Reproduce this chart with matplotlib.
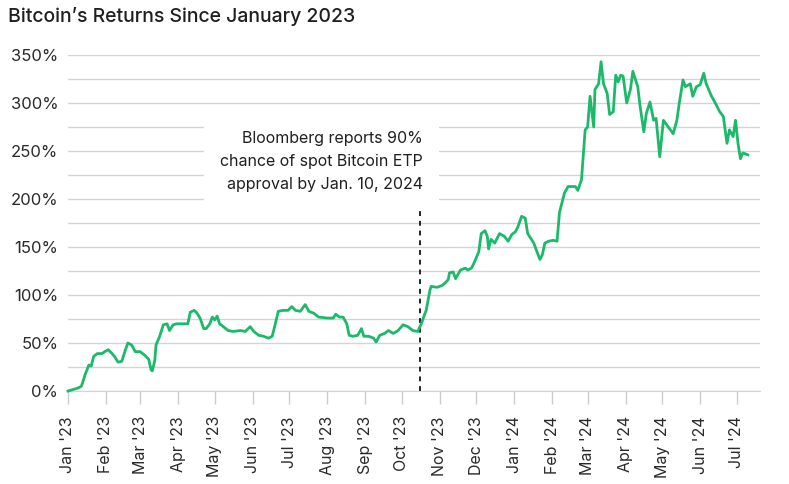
import numpy as np
import pandas as pd
import matplotlib.pyplot as plt
from matplotlib.ticker import MultipleLocator

plt.rcParams["font.family"] = ["Inter", "DejaVu Sans"]

# Values (cumulative return, %)
dates = [
    "2023-01-01", "2023-01-09", "2023-01-12", "2023-01-15", "2023-01-18", "2023-01-20",
    "2023-01-22", "2023-01-25", "2023-01-29", "2023-01-31", "2023-02-03", "2023-02-06",
    "2023-02-08", "2023-02-11", "2023-02-14", "2023-02-17", "2023-02-19", "2023-02-22",
    "2023-02-25", "2023-03-01", "2023-03-05", "2023-03-08", "2023-03-10", "2023-03-11",
    "2023-03-13", "2023-03-14", "2023-03-17", "2023-03-20", "2023-03-23", "2023-03-25",
    "2023-03-28", "2023-03-31", "2023-04-05", "2023-04-09", "2023-04-11", "2023-04-14",
    "2023-04-16", "2023-04-19", "2023-04-22", "2023-04-24", "2023-04-27", "2023-04-29",
    "2023-05-01", "2023-05-03", "2023-05-05", "2023-05-08", "2023-05-12", "2023-05-16",
    "2023-05-22", "2023-05-26", "2023-05-30", "2023-06-02", "2023-06-06", "2023-06-10",
    "2023-06-14", "2023-06-17", "2023-06-19", "2023-06-22", "2023-06-26", "2023-06-30",
    "2023-07-03", "2023-07-06", "2023-07-10", "2023-07-14", "2023-07-17", "2023-07-21",
    "2023-07-25", "2023-08-01", "2023-08-06", "2023-08-08", "2023-08-11", "2023-08-14",
    "2023-08-17", "2023-08-19", "2023-08-22", "2023-08-26", "2023-08-29", "2023-08-31",
    "2023-09-04", "2023-09-08", "2023-09-10", "2023-09-13", "2023-09-17", "2023-09-20",
    "2023-09-24", "2023-09-28", "2023-10-02", "2023-10-06", "2023-10-10", "2023-10-14",
    "2023-10-17", "2023-10-20", "2023-10-21", "2023-10-24", "2023-10-25", "2023-10-30",
    "2023-11-03", "2023-11-05", "2023-11-08", "2023-11-09", "2023-11-12", "2023-11-14",
    "2023-11-18", "2023-11-22", "2023-11-24", "2023-11-27", "2023-11-29", "2023-12-03",
    "2023-12-05", "2023-12-08", "2023-12-10", "2023-12-11", "2023-12-13", "2023-12-16",
    "2023-12-20", "2023-12-24", "2023-12-27", "2023-12-30", "2024-01-02", "2024-01-04",
    "2024-01-07", "2024-01-10", "2024-01-12", "2024-01-17", "2024-01-19", "2024-01-22",
    "2024-01-24", "2024-01-26", "2024-01-29", "2024-02-02", "2024-02-05", "2024-02-07",
    "2024-02-11", "2024-02-14", "2024-02-20", "2024-02-22", "2024-02-25", "2024-02-28",
    "2024-03-01", "2024-03-03", "2024-03-06", "2024-03-07", "2024-03-10", "2024-03-12",
    "2024-03-14", "2024-03-17", "2024-03-19", "2024-03-22", "2024-03-24", "2024-03-26",
    "2024-03-28", "2024-03-30", "2024-04-02", "2024-04-05", "2024-04-07", "2024-04-11",
    "2024-04-13", "2024-04-16", "2024-04-18", "2024-04-21", "2024-04-24", "2024-04-26",
    "2024-04-29", "2024-05-02", "2024-05-06", "2024-05-10", "2024-05-13", "2024-05-15",
    "2024-05-18", "2024-05-20", "2024-05-24", "2024-05-26", "2024-05-29", "2024-06-01",
    "2024-06-04", "2024-06-06", "2024-06-10", "2024-06-13", "2024-06-17", "2024-06-20",
    "2024-06-23", "2024-06-25", "2024-06-28", "2024-06-30", "2024-07-02", "2024-07-04",
    "2024-07-06", "2024-07-10",
]
returns = [
    0, 3, 5, 17, 27, 26,
    36, 39, 39, 41, 43, 39,
    36, 30, 31, 43, 50, 48,
    41, 41, 37, 33, 22, 21,
    32, 48, 57, 69, 70, 63,
    69, 70, 70, 70, 82, 84,
    82, 76, 65, 65, 70, 77,
    74, 78, 70, 67, 63, 62,
    63, 62, 67, 62, 58, 57,
    55, 57, 67, 83, 84, 84,
    88, 84, 83, 90, 83, 81,
    77, 76, 76, 80, 77, 77,
    70, 58, 57, 58, 65, 57,
    57, 55, 51, 58, 60, 63,
    60, 63, 69, 67, 63, 62,
    70, 81, 84, 105, 109, 108,
    110, 112, 116, 123, 124, 117,
    126, 128, 126, 128, 133, 145,
    164, 167, 161, 148, 158, 154,
    164, 161, 156, 163, 166, 171,
    182, 180, 164, 154, 147, 137,
    142, 154, 156, 157, 156, 186,
    206, 213, 213, 209, 220, 272,
    275, 307, 275, 314, 320, 343,
    320, 310, 288, 291, 329, 322,
    329, 328, 300, 314, 333, 317,
    296, 270, 289, 301, 282, 284,
    244, 282, 275, 268, 282, 300,
    324, 317, 320, 307, 317, 319,
    331, 320, 308, 301, 291, 286,
    258, 272, 265, 282, 258, 242,
    248, 246,
]

event_date = "2023-10-16"
event_top = 188
note = "Bloomberg reports 90%\nchance of spot Bitcoin ETP\napproval by Jan. 10, 2024"
title = "Bitcoin\u2019s Returns Since January 2023"

month_ticks = pd.date_range("2023-01-01", "2024-07-01", freq="MS")
month_labels = [d.strftime("%b '%y") for d in month_ticks]

x = pd.to_datetime(dates)

fig = plt.figure(figsize=(7.89, 4.84), dpi=100)
ax = fig.add_axes([68 / 789, (484 - 391) / 484, (760 - 68) / 789, (391 - 55) / 484])

ax.plot(x, returns, color="#1db96b", lw=2, zorder=3, clip_on=False,
        solid_joinstyle="round")

ax.vlines(pd.Timestamp(event_date), 0, event_top, colors="#222222",
          linestyles=(0, (2.5, 2.5)), lw=1.4, zorder=2)
ax.text(pd.Timestamp(event_date) + pd.Timedelta(days=2), 239, note,
        ha="right", va="center", fontsize=11.5, color="#1f1f1f", linespacing=1.7,
        zorder=4,
        bbox=dict(facecolor="white", edgecolor="none", boxstyle="square,pad=1.0"))

ax.set_xlim(pd.Timestamp("2023-01-01"), pd.Timestamp("2024-07-20"))
ax.set_ylim(0, 350)

ax.set_xticks(month_ticks)
ax.set_xticklabels(month_labels, rotation=90, fontsize=11.5, color="#2a2a2a")
ax.yaxis.set_minor_locator(MultipleLocator(25))
ax.set_yticks(np.arange(0, 351, 50))
ax.set_yticklabels([f"{v}%" for v in range(0, 351, 50)], fontsize=12, color="#2a2a2a")

ax.grid(axis="y", which="both", color="#d4d4d4", lw=1)
ax.set_axisbelow(True)
ax.tick_params(axis="y", which="both", length=0, pad=7)
ax.tick_params(axis="x", length=9, width=1, color="#cccccc", pad=9)

for s in ["top", "right", "left"]:
    ax.spines[s].set_visible(False)
ax.spines["bottom"].set_color("#d4d4d4")

fig.text(8 / 789, 1 - 17 / 484, title, ha="left", va="center", fontsize=14,
         fontweight="medium", color="#1f1f1f")

fig.savefig("out.png", dpi=100)
